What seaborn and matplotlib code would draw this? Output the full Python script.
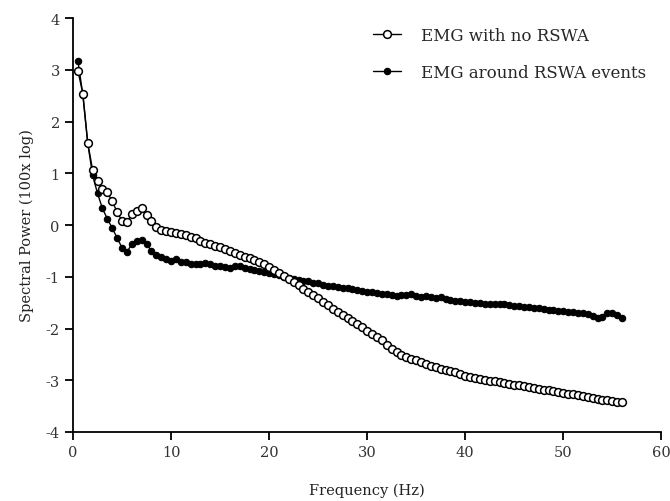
import numpy as np
import pandas as pd
import seaborn as sns
import matplotlib.pyplot as plt

# frequency bins (Hz)
freq = np.arange(0.5, 56.01, 0.5)

# EMG with no RSWA (open circles)
no_rswa = [2.98, 2.54, 1.59, 1.06, 0.86, 0.69, 0.63, 0.46, 0.25, 0.08,
           0.06, 0.21, 0.28, 0.32, 0.19, 0.07, -0.04, -0.09, -0.12, -0.14,
           -0.16, -0.18, -0.20, -0.23, -0.26, -0.30, -0.34, -0.37, -0.40, -0.43,
           -0.46, -0.50, -0.54, -0.57, -0.61, -0.64, -0.68, -0.72, -0.76, -0.81,
           -0.86, -0.92, -0.98, -1.04, -1.10, -1.16, -1.23, -1.29, -1.36, -1.42,
           -1.48, -1.55, -1.62, -1.68, -1.74, -1.80, -1.86, -1.92, -1.98, -2.04,
           -2.10, -2.16, -2.23, -2.32, -2.40, -2.46, -2.51, -2.55, -2.58, -2.61,
           -2.65, -2.69, -2.72, -2.75, -2.78, -2.80, -2.83, -2.85, -2.88, -2.91,
           -2.93, -2.95, -2.97, -2.99, -3.01, -3.02, -3.04, -3.06, -3.07, -3.09,
           -3.10, -3.12, -3.13, -3.15, -3.16, -3.18, -3.19, -3.21, -3.22, -3.24,
           -3.26, -3.27, -3.29, -3.31, -3.33, -3.35, -3.36, -3.38, -3.39, -3.41,
           -3.42, -3.43]

# EMG around RSWA events (filled circles)
rswa = [3.17, 2.52, 1.58, 0.96, 0.61, 0.32, 0.12, -0.06, -0.25, -0.44,
        -0.52, -0.37, -0.30, -0.29, -0.37, -0.50, -0.57, -0.61, -0.65, -0.70,
        -0.66, -0.71, -0.72, -0.75, -0.76, -0.76, -0.73, -0.75, -0.80, -0.79,
        -0.82, -0.84, -0.80, -0.79, -0.83, -0.85, -0.86, -0.88, -0.90, -0.92,
        -0.94, -0.97, -1.00, -1.03, -1.05, -1.07, -1.08, -1.09, -1.12, -1.13,
        -1.15, -1.17, -1.18, -1.20, -1.21, -1.22, -1.24, -1.26, -1.27, -1.29,
        -1.30, -1.31, -1.33, -1.34, -1.36, -1.37, -1.36, -1.35, -1.33, -1.37,
        -1.39, -1.38, -1.40, -1.41, -1.40, -1.43, -1.44, -1.46, -1.47, -1.49,
        -1.48, -1.50, -1.50, -1.52, -1.53, -1.52, -1.53, -1.52, -1.54, -1.56,
        -1.57, -1.59, -1.58, -1.60, -1.61, -1.63, -1.64, -1.65, -1.66, -1.67,
        -1.68, -1.69, -1.70, -1.71, -1.72, -1.75, -1.80, -1.77, -1.71, -1.70,
        -1.74, -1.79]

labels = ['EMG with no RSWA', 'EMG around RSWA events']

df = pd.DataFrame({'freq': freq, 'no_rswa': no_rswa, 'rswa': rswa})

sns.set_style('ticks')
plt.rcParams['font.family'] = ['DejaVu Serif']
plt.rcParams['axes.unicode_minus'] = False

fig, ax = plt.subplots(figsize=(6.7, 5.02), dpi=100)
fig.subplots_adjust(left=0.109, right=0.987, top=0.962, bottom=0.1375)

# filled series underneath, open circles on top
sns.lineplot(data=df, x='freq', y='rswa', ax=ax, color='black', lw=1,
             marker='o', markersize=4.6, markerfacecolor='black',
             markeredgecolor='black', markeredgewidth=0.8, label=labels[1])
sns.lineplot(data=df, x='freq', y='no_rswa', ax=ax, color='black', lw=1,
             marker='o', markersize=5.6, markerfacecolor='white',
             markeredgecolor='black', markeredgewidth=1.1, label=labels[0])

ax.set_xlim(0, 60)
ax.set_ylim(-4, 4)
ax.set_xticks(range(0, 61, 10))
ax.set_yticks(range(-4, 5))
ax.tick_params(axis='both', direction='out', length=6, width=1.3,
               labelsize=10.5, color='black', labelcolor='#333333')
for s in ['left', 'bottom']:
    ax.spines[s].set_linewidth(1.3)
    ax.spines[s].set_color('black')
sns.despine(ax=ax)

ax.set_xlabel('Frequency (Hz)', fontsize=10.5, labelpad=17, color='#222222')
ax.set_ylabel('Spectral Power (100x log)', fontsize=10.5, labelpad=8, color='#222222')

h, l = ax.get_legend_handles_labels()
ax.legend(h[::-1], l[::-1], loc='upper right', frameon=False, fontsize=12,
          handlelength=1.7, handletextpad=1.2, labelspacing=1.2,
          bbox_to_anchor=(1.0, 1.015))

fig.savefig('out.png', dpi=100)
